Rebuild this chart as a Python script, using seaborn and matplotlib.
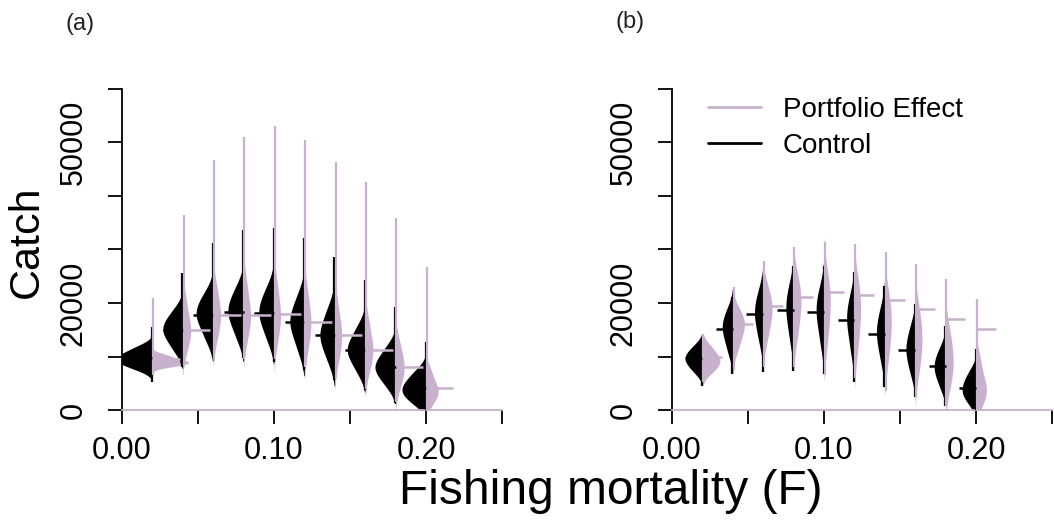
import numpy as np
import pandas as pd
import matplotlib
matplotlib.use("Agg")
import matplotlib.pyplot as plt
from matplotlib.lines import Line2D
import seaborn as sns

sns.set_theme(style="white")
plt.rcParams['font.family'] = ['Liberation Sans', 'DejaVu Sans']
plt.rcParams['text.color'] = 'black'

PINK = '#C8B1CC'

F = [0.02, 0.04, 0.06, 0.08, 0.10, 0.12, 0.14, 0.16, 0.18, 0.20]

# ---- Panel (a) ----
a_ctrl_q10 = [7900, 11500, 13500, 13800, 13500, 11500, 9500, 7500, 4800, 1500]
a_ctrl_q30 = [9000, 13900, 16500, 17000, 16700, 15000, 12700, 10200, 7100, 3000]
a_ctrl_q50 = [9600, 15000, 17800, 18300, 18200, 16400, 14000, 11200, 8000, 4000]
a_ctrl_q70 = [10300, 16200, 19200, 19900, 19700, 18000, 15600, 12600, 9200, 5100]
a_ctrl_q90 = [11600, 18300, 21500, 22500, 22500, 21000, 18800, 15200, 11500, 7000]
a_ctrl_min = [5200, 8000, 9700, 9700, 9000, 7500, 5600, 3700, 1300, 0]
a_ctrl_max = [15500, 25600, 31200, 33600, 34000, 32100, 28600, 24300, 19300, 12700]
a_ctrl_line = [9700, 15000, 17800, 18300, 18200, 16400, 14000, 11200, 8000, 4100]

a_pe_q10 = [8300, 11500, 13500, 13500, 13000, 11500, 9500, 7500, 4500, 1500]
a_pe_q30 = [8700, 13900, 16400, 16500, 16200, 14700, 12500, 10200, 6900, 2900]
a_pe_q50 = [9000, 15200, 17800, 17800, 17800, 16500, 14000, 11500, 8200, 3800]
a_pe_q70 = [9400, 16800, 19600, 19800, 19800, 18300, 15800, 13100, 9600, 4900]
a_pe_q90 = [10200, 20500, 22800, 23500, 23500, 22000, 19500, 16500, 12500, 7200]
a_pe_min = [6500, 8500, 9500, 9500, 9500, 8000, 6000, 4000, 1500, 0]
a_pe_max = [21000, 36400, 46700, 51000, 53000, 50500, 46400, 42600, 35900, 26700]
a_pe_line = [9500, 15000, 17800, 17800, 18000, 16500, 14000, 11200, 8000, 4100]

# ---- Panel (b) ----
b_ctrl_q10 = [7300, 11000, 13000, 13000, 12500, 11000, 9300, 7000, 4500, 1500]
b_ctrl_q30 = [8800, 13800, 16200, 16800, 16300, 14800, 12700, 9800, 6800, 3000]
b_ctrl_q50 = [9600, 15200, 17900, 18700, 18200, 16800, 14300, 11300, 8000, 4000]
b_ctrl_q70 = [10400, 16500, 19500, 20500, 20000, 18500, 16000, 12800, 9300, 5200]
b_ctrl_q90 = [11800, 18500, 22000, 23200, 22500, 21200, 18800, 15500, 11300, 7000]
b_ctrl_min = [4500, 6700, 7100, 7300, 6700, 5200, 4300, 2400, 700, 0]
b_ctrl_max = [13300, 21100, 25000, 26900, 26900, 25800, 23200, 19800, 15700, 11400]
b_ctrl_line = [9700, 15200, 17900, 18700, 18300, 16800, 14200, 11200, 8200, 4100]

b_pe_q10 = [7200, 11500, 13500, 13800, 12500, 11300, 9500, 7300, 4500, 1500]
b_pe_q30 = [8500, 14200, 16700, 17500, 16800, 15500, 13500, 10800, 7300, 3000]
b_pe_q50 = [9300, 15600, 18500, 19800, 19500, 18300, 16000, 13200, 9300, 4300]
b_pe_q70 = [10200, 16800, 20200, 21800, 22000, 20800, 18500, 15500, 11500, 6000]
b_pe_q90 = [11800, 18500, 22500, 24500, 25000, 23800, 21500, 18800, 14800, 9500]
b_pe_min = [5200, 7500, 8000, 8000, 6500, 6000, 3500, 2500, 800, 0]
b_pe_max = [14200, 23000, 27800, 30400, 31400, 31000, 29500, 27300, 24500, 20700]
b_pe_line = [9900, 16100, 19400, 21100, 22000, 21500, 20600, 18900, 17000, 15100]

x_ticks = [0.0, 0.05, 0.10, 0.15, 0.20, 0.25]
x_labels = ['0.00', '', '0.10', '', '0.20', '']
y_ticks = [0, 10000, 20000, 30000, 40000, 50000, 60000]
y_labels = ['0', '', '20000', '', '', '50000', '']


def make_df(ctrl_q, pe_q):
    rows = []
    for grp, qs in (('Control', ctrl_q), ('Portfolio Effect', pe_q)):
        for q in qs:
            for f, v in zip(F, q):
                rows.append((f, grp, v))
    return pd.DataFrame(rows, columns=['F', 'Group', 'Catch'])


def draw(ax, ctrl_q, pe_q, cmin, cmax, pmin, pmax, cline, pline, width, lb, lp):
    df = make_df(ctrl_q, pe_q)
    sns.violinplot(data=df, x='F', y='Catch', hue='Group',
                   hue_order=['Control', 'Portfolio Effect'],
                   palette={'Control': 'black', 'Portfolio Effect': PINK},
                   split=True, native_scale=True, inner=None, cut=2,
                   density_norm='area', width=width, linewidth=0,
                   saturation=1, legend=False, ax=ax)
    Fa = np.array(F)
    ax.vlines(Fa - 0.0003, cmin, cmax, color='black', lw=1.6, zorder=3)
    ax.vlines(Fa + 0.0005, pmin, pmax, color=PINK, lw=1.6, zorder=3)
    ax.hlines(cline, Fa - lb, Fa, color='black', lw=1.8, zorder=4)
    ax.hlines(pline, Fa, Fa + lp, color=PINK, lw=1.8, zorder=4)
    ax.set_xlim(0, 0.25)
    ax.set_ylim(0, 60000)
    ax.set_xticks(x_ticks)
    ax.set_xticklabels(x_labels)
    ax.set_yticks(y_ticks)
    ax.set_yticklabels(y_labels, rotation=90, va='center')
    ax.set_xlabel('')
    ax.set_ylabel('')
    for s in ('top', 'right'):
        ax.spines[s].set_visible(False)
    ax.spines['left'].set_color('black')
    ax.spines['left'].set_linewidth(1.3)
    ax.spines['bottom'].set_color(PINK)
    ax.spines['bottom'].set_linewidth(1.3)
    ax.tick_params(axis='both', direction='out', length=10, width=1.3,
                   color='black', labelsize=22, labelcolor='black',
                   bottom=True, left=True)
    ax.tick_params(axis='x', pad=9)
    ax.tick_params(axis='y', pad=14)
    ax.grid(False)
    ax.set_facecolor('none')


fig = plt.figure(figsize=(10.54, 5.23), dpi=100)
W, H = 1054, 523
axA = fig.add_axes([122 / W, 113 / H, 380 / W, 321 / H])
axB = fig.add_axes([672 / W, 113 / H, 380 / W, 321 / H])

draw(axA,
     [a_ctrl_q10, a_ctrl_q30, a_ctrl_q50, a_ctrl_q70, a_ctrl_q90],
     [a_pe_q10, a_pe_q30, a_pe_q50, a_pe_q70, a_pe_q90],
     a_ctrl_min, a_ctrl_max, a_pe_min, a_pe_max, a_ctrl_line, a_pe_line,
     width=2.4, lb=0.013, lp=0.018)
draw(axB,
     [b_ctrl_q10, b_ctrl_q30, b_ctrl_q50, b_ctrl_q70, b_ctrl_q90],
     [b_pe_q10, b_pe_q30, b_pe_q50, b_pe_q70, b_pe_q90],
     b_ctrl_min, b_ctrl_max, b_pe_min, b_pe_max, b_ctrl_line, b_pe_line,
     width=1.15, lb=0.011, lp=0.013)

handles = [Line2D([], [], color=PINK, lw=2), Line2D([], [], color='black', lw=2)]
axB.legend(handles, ['Portfolio Effect', 'Control'], loc='upper left',
           bbox_to_anchor=(708 / W, 1 - 97 / H), bbox_transform=fig.transFigure,
           frameon=False, fontsize=20, handlelength=1.9, handletextpad=0.8,
           labelspacing=0.35, borderpad=0, borderaxespad=0, labelcolor='black')

fig.text(80 / W, 1 - 24 / H, '(a)', fontsize=17, ha='center', va='center', color='#222222')
fig.text(630 / W, 1 - 22 / H, '(b)', fontsize=17, ha='center', va='center', color='#222222')
fig.text(611 / W, 1 - 492 / H, 'Fishing mortality (F)', fontsize=34.5, ha='center', va='center')
fig.text(27 / W, 1 - 242 / H, 'Catch', fontsize=31, rotation=90, ha='center', va='center')

fig.savefig('out.png', dpi=100, facecolor='white')
